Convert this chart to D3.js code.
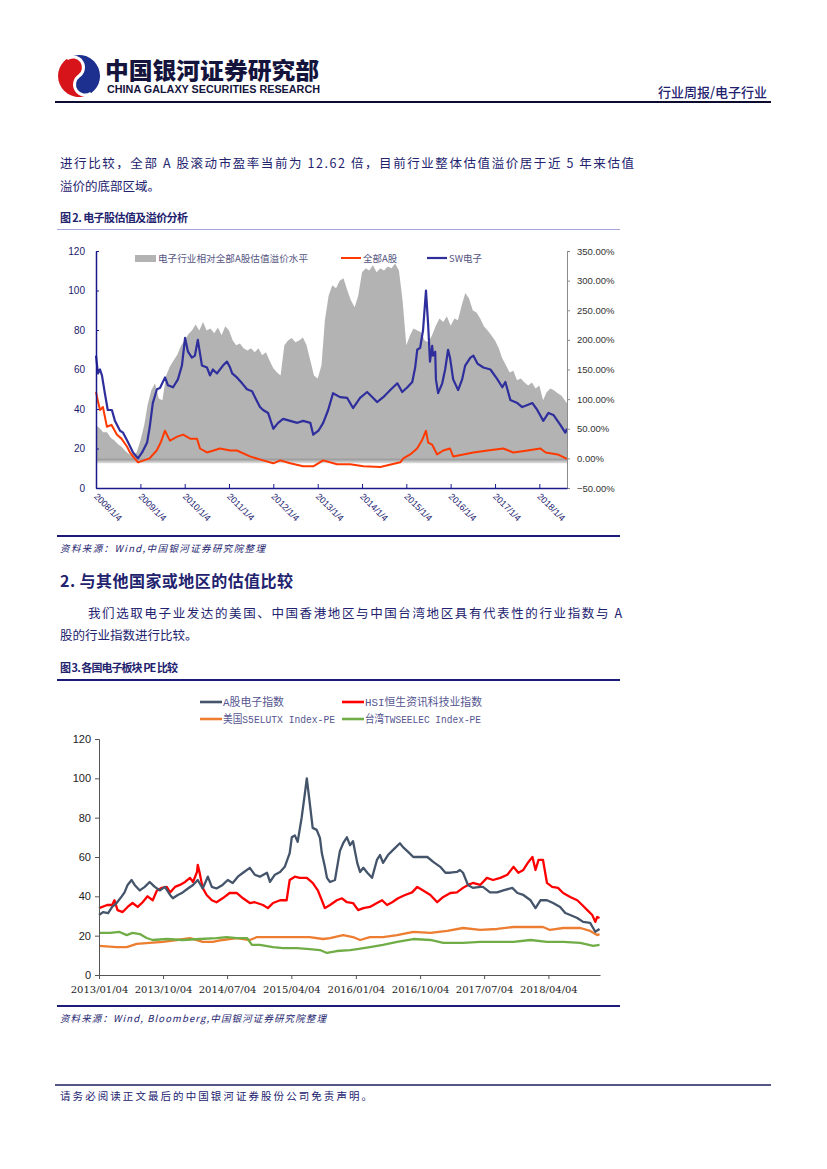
<!DOCTYPE html>
<html><head><meta charset="utf-8">
<script src="https://cdn.jsdelivr.net/npm/d3@7"></script>
<style>body{margin:0;background:#fff}svg{display:block}</style>
</head><body><svg id="page" width="827" height="1169"></svg>
<script>
// ---------------- DATA ----------------
// Chart 1 (图2): monthly premium (%) starting 2008-01
const premiumStart = "2008-01-04";
const premiumValues = [
 56,51,44,44,35,30,24,19,12,7,5,10,
 30,56,90,115,127,101,98,140,155,165,175,190,
 200,210,216,226,216,230,216,219,211,221,208,223,
 216,199,191,194,186,182,186,179,186,174,179,165,
 152,145,140,191,199,203,196,199,204,191,165,140,
 135,157,233,275,292,287,300,304,284,267,255,275,
 314,321,317,326,314,321,317,324,321,329,317,267,
 191,208,219,216,213,199,196,208,224,236,230,240,
 224,236,233,258,279,270,250,246,236,223,216,208,
 199,186,169,157,145,148,132,135,128,123,128,118,
 123,98,111,118,115,110,106,93];
const allAShares = [
 ["2008-01-04",48.6],["2008-01-20",44],["2008-02-06",39.5],["2008-03-01",41],["2008-04-03",31],["2008-05-10",32],
 ["2008-06-25",27],["2008-08-01",25],["2008-09-15",21],["2008-10-10",18],["2008-11-04",16],["2008-12-15",13],
 ["2009-02-01",14],["2009-03-20",15],["2009-05-18",19],["2009-06-20",23],["2009-07-25",29],["2009-09-04",24],
 ["2009-11-04",26],["2009-12-22",27],["2010-02-18",25],["2010-04-15",25],["2010-05-10",20],["2010-07-06",18],
 ["2010-10-22",20],["2011-01-13",19],["2011-03-10",19],["2011-06-25",16],["2011-10-12",14],["2012-01-04",12.5],
 ["2012-03-01",14],["2012-05-22",12.5],["2012-09-06",11],["2012-11-28",11],["2013-02-18",14],["2013-06-12",12],
 ["2013-09-28",12],["2014-01-16",11],["2014-06-04",10.6],["2014-11-15",13],["2014-12-10",15],["2015-02-05",17],
 ["2015-04-03",20],["2015-05-12",24],["2015-06-15",29],["2015-07-03",23],["2015-08-04",22],["2015-09-15",17],
 ["2015-11-04",19],["2015-12-30",20],["2016-01-25",16],["2016-04-18",17],["2016-07-10",18],["2016-11-04",19],
 ["2017-03-13",20],["2017-06-04",18],["2017-09-28",19],["2018-01-13",20],["2018-02-25",18],["2018-06-04",17],
 ["2018-08-20",14.7]];
const swElectronics = [
 ["2008-01-04",67],["2008-01-20",58],["2008-02-06",60],["2008-02-22",57],["2008-03-17",48],["2008-04-10",39.5],
 ["2008-05-14",39.5],["2008-06-08",34],["2008-07-20",29],["2008-08-14",28],["2008-09-25",23],["2008-11-04",18],
 ["2008-12-15",15],["2009-01-18",18],["2009-02-28",23],["2009-03-22",31],["2009-04-16",43],["2009-05-20",50],
 ["2009-06-14",50.6],["2009-07-26",56],["2009-08-19",52],["2009-09-30",51],["2009-11-09",55],["2009-12-12",62],
 ["2010-01-07",76],["2010-01-31",69],["2010-03-04",66],["2010-03-29",67],["2010-04-22",75],["2010-05-26",62],
 ["2010-07-07",61],["2010-07-31",57],["2010-08-24",60],["2010-09-27",58],["2010-11-15",62],["2010-12-18",64],
 ["2011-01-13",61],["2011-01-30",58],["2011-03-10",56],["2011-04-22",53],["2011-06-01",50],["2011-07-13",49],
 ["2011-08-06",46],["2011-09-16",41],["2011-10-12",39.5],["2011-11-22",38],["2012-01-04",30],["2012-02-13",33],
 ["2012-03-25",35],["2012-05-22",34],["2012-07-20",33],["2012-09-06",34],["2012-11-04",33],["2012-11-28",27],
 ["2013-01-10",29],["2013-02-18",33],["2013-03-31",39.5],["2013-05-10",48],["2013-07-07",46],["2013-09-04",45.6],
 ["2013-10-22",40.5],["2013-12-19",45.6],["2014-02-15",48.6],["2014-04-06",45.6],["2014-05-08",43.5],["2014-06-28",46],
 ["2014-08-25",49.6],["2014-10-22",53],["2014-12-01",48.6],["2015-01-13",51],["2015-02-22",53.7],["2015-03-18",61],
 ["2015-04-04",70],["2015-04-28",71],["2015-05-22",80],["2015-06-15",100],["2015-07-03",82.5],["2015-07-18",64],
 ["2015-08-05",72],["2015-08-12",67],["2015-08-30",69],["2015-09-05",55],["2015-09-23",48],["2015-10-27",53],
 ["2015-11-20",60],["2015-12-14",70],["2015-12-30",66],["2016-01-25",55],["2016-03-06",49.6],["2016-04-08",55],
 ["2016-05-03",62],["2016-06-15",66],["2016-07-10",67],["2016-08-12",63],["2016-09-30",61],["2016-11-27",60],
 ["2017-01-24",55],["2017-03-05",51],["2017-03-30",53.7],["2017-05-10",44.6],["2017-07-07",43],["2017-08-16",41],
 ["2017-09-28",42],["2017-11-08",43],["2017-12-18",39.5],["2018-02-06",34],["2018-03-20",38],["2018-04-30",37],
 ["2018-06-26",32],["2018-08-06",28],["2018-08-20",30]];
const c1LeftTicks = [0,20,40,60,80,100,120];
const c1RightTicks = [-50,0,50,100,150,200,250,300,350];
const c1XTicks = ["2008/1/4","2009/1/4","2010/1/4","2011/1/4","2012/1/4","2013/1/4","2014/1/4","2015/1/4","2016/1/4","2017/1/4","2018/1/4"];
const c1Legend = ["电子行业相对全部A股估值溢价水平","全部A股","SW电子"];

// Chart 2 (图3)
const aShareElec = [
 ["2013-01-04",30.5],["2013-01-21",32],["2013-02-12",31.5],["2013-03-01",34.6],["2013-03-20",36.6],["2013-04-11",40],
 ["2013-04-23",42],["2013-05-06",45.8],["2013-05-23",48.3],["2013-06-05",45.8],["2013-06-27",43],["2013-07-18",44.8],
 ["2013-08-08",47.3],["2013-08-30",44.8],["2013-09-21",43],["2013-10-12",44.8],["2013-11-03",40.7],["2013-11-15",39],
 ["2013-12-06",40.7],["2013-12-27",42],["2014-01-18",44],["2014-02-09",45.8],["2014-03-01",48.3],["2014-03-22",44],
 ["2014-04-13",50],["2014-04-30",44.8],["2014-05-20",44],["2014-06-15",45.8],["2014-07-07",48.3],["2014-07-28",46.8],
 ["2014-08-19",50],["2014-09-10",52],["2014-10-09",54.5],["2014-10-30",51],["2014-11-21",50],["2014-12-21",52],
 ["2015-01-03",47.3],["2015-01-24",51],["2015-02-15",52.4],["2015-03-07",55],["2015-03-28",62],["2015-04-06",70],
 ["2015-04-19",71],["2015-05-01",67.7],["2015-05-18",80],["2015-05-31",91.6],["2015-06-09",100],["2015-06-21",88],
 ["2015-07-04",74.8],["2015-07-21",73.8],["2015-08-04",69.7],["2015-08-12",62],["2015-08-25",55],["2015-09-03",49.4],
 ["2015-09-16",47.3],["2015-10-07",48.3],["2015-10-28",63],["2015-11-11",67],["2015-11-27",70],["2015-12-10",66],
 ["2015-12-23",68],["2016-01-10",57],["2016-01-22",52.4],["2016-02-05",54.5],["2016-02-22",52],["2016-03-13",49.4],
 ["2016-04-03",58.5],["2016-04-16",61],["2016-04-29",57],["2016-05-20",61],["2016-06-11",63.6],["2016-07-10",67],
 ["2016-07-23",65],["2016-08-14",62.6],["2016-09-05",60],["2016-10-04",60],["2016-11-04",60],["2016-11-29",57.5],
 ["2016-12-29",55],["2017-01-20",52],["2017-02-10",52],["2017-03-10",52.4],["2017-03-23",53.4],["2017-04-05",52],
 ["2017-04-26",45.8],["2017-05-17",44.3],["2017-06-17",44.8],["2017-06-29",44.8],["2017-07-29",42],["2017-08-28",42],
 ["2017-09-24",43],["2017-11-01",44.3],["2017-11-23",41.7],["2017-12-18",40.7],["2018-01-18",38],["2018-02-08",34],
 ["2018-03-01",38],["2018-03-29",38],["2018-04-24",36.6],["2018-05-24",34.6],["2018-06-15",31.5],["2018-07-06",30.5],
 ["2018-08-05",29],["2018-08-30",27],["2018-09-29",26.5],["2018-10-21",22],["2018-11-08",23.4]];
const hsiTech = [
 ["2013-01-04",34],["2013-02-08",35.6],["2013-03-01",35.6],["2013-03-11",38],["2013-03-24",33],["2013-04-15",32],
 ["2013-05-06",34.6],["2013-05-27",36.6],["2013-06-18",34.6],["2013-07-09",37],["2013-07-30",40],["2013-08-21",38],
 ["2013-09-08",43],["2013-09-29",44.3],["2013-10-20",44.8],["2013-11-03",42],["2013-11-24",44.8],["2013-12-15",45.8],
 ["2014-01-06",47.3],["2014-01-27",49.4],["2014-02-09",47.3],["2014-02-26",52.4],["2014-03-01",56],["2014-03-09",52],
 ["2014-03-22",44.3],["2014-04-08",40.7],["2014-04-30",38],["2014-05-20",37],["2014-06-15",39],["2014-07-15",41.7],
 ["2014-08-14",41.7],["2014-09-10",39],["2014-10-09",36.6],["2014-10-30",37],["2014-12-04",35.6],["2014-12-25",34],
 ["2015-01-16",36.6],["2015-02-15",38],["2015-03-15",38],["2015-03-28",48.3],["2015-04-19",50],["2015-05-10",49.4],
 ["2015-06-09",49.4],["2015-07-04",46.8],["2015-07-26",43],["2015-08-12",38],["2015-08-25",34],["2015-09-16",35.6],
 ["2015-10-15",38],["2015-11-06",39],["2015-11-27",37],["2015-12-23",36.6],["2016-01-14",33],["2016-02-05",34],
 ["2016-03-04",34.6],["2016-04-03",36.6],["2016-04-25",38],["2016-05-16",35.6],["2016-06-07",37],["2016-07-02",39],
 ["2016-08-01",40.7],["2016-08-31",42],["2016-09-22",44.8],["2016-10-17",43],["2016-11-17",40.7],["2016-12-16",37],
 ["2017-01-11",39.7],["2017-02-10",41.7],["2017-03-10",42],["2017-04-05",44.3],["2017-04-26",45.8],["2017-05-17",46.8],
 ["2017-06-17",45.8],["2017-07-16",49.4],["2017-08-11",48.3],["2017-09-11",49.4],["2017-10-11",51],["2017-11-06",55],
 ["2017-11-27",52],["2017-12-18",53.4],["2018-01-09",57.5],["2018-01-26",60],["2018-02-08",53.4],["2018-02-21",58.5],
 ["2018-03-12",58.5],["2018-03-29",46.8],["2018-04-20",44.8],["2018-05-15",44.3],["2018-06-06",41.7],["2018-07-06",39.7],
 ["2018-08-05",38],["2018-08-26",35.6],["2018-09-17",33],["2018-10-08",30.5],["2018-10-21",27],["2018-10-29",29.5],
 ["2018-11-08",29]];
const usS5elutx = [
 ["2013-01-04",14.8],["2013-03-20",14.2],["2013-05-02",14.2],["2013-06-14",15.8],["2013-08-08",16.3],["2013-10-03",16.8],
 ["2013-12-02",17.8],["2014-01-27",18.8],["2014-03-22",16.8],["2014-05-04",16.8],["2014-06-15",17.8],["2014-08-14",18.8],
 ["2014-10-09",17.8],["2014-11-09",19.3],["2015-01-03",19.3],["2015-02-28",19.3],["2015-04-27",19.3],["2015-06-21",19.3],
 ["2015-08-17",18.3],["2015-09-16",18.8],["2015-11-11",20.3],["2015-12-23",19.3],["2016-01-22",17.8],["2016-03-04",19.3],
 ["2016-04-29",19.3],["2016-06-28",20.3],["2016-09-05",21.9],["2016-11-17",21.4],["2017-01-28",22.4],["2017-04-05",23.9],
 ["2017-06-17",22.9],["2017-08-28",23.4],["2017-11-06",24.4],["2018-01-18",24.4],["2018-03-12",24.4],["2018-04-11",22.9],
 ["2018-06-06",23.9],["2018-08-18",23.9],["2018-09-29",22.4],["2018-10-29",20.3],["2018-11-08",20.8]];
const twTwseelec = [
 ["2013-01-04",21.4],["2013-02-20",21.4],["2013-04-02",21.9],["2013-05-02",20.3],["2013-05-27",21.4],["2013-06-27",20.8],
 ["2013-07-26",18.8],["2013-08-21",17.8],["2013-10-20",18.3],["2013-12-27",17.8],["2014-03-09",18.3],["2014-05-20",18.8],
 ["2014-07-02",19.3],["2014-08-14",18.8],["2014-09-27",18.8],["2014-10-18",15.3],["2014-11-21",15.3],["2015-01-16",14.2],
 ["2015-02-28",13.7],["2015-04-27",13.7],["2015-06-21",13.2],["2015-08-04",12.7],["2015-09-03",11.2],["2015-10-15",12.2],
 ["2015-12-10",12.7],["2016-01-10",13.2],["2016-03-04",14.2],["2016-04-29",15.3],["2016-06-28",16.8],["2016-09-05",18.3],
 ["2016-11-17",17.8],["2017-01-11",16.3],["2017-04-05",16.3],["2017-06-17",16.8],["2017-08-28",16.8],["2017-11-06",16.8],
 ["2018-01-18",17.8],["2018-03-29",16.8],["2018-06-06",16.8],["2018-08-18",16.3],["2018-10-12",14.8],["2018-11-08",15.3]];
const c2YTicks = [0,20,40,60,80,100,120];
const c2XTicks = ["2013/01/04","2013/10/04","2014/07/04","2015/04/04","2016/01/04","2016/10/04","2017/07/04","2018/04/04"];
const c2Legend = ["A股电子指数","HSI恒生资讯科技业指数","美国S5ELUTX Index-PE","台湾TWSEELEC Index-PE"];

// ---------------- DRAW ----------------
const svg = d3.select("#page");
const parse = d3.timeParse("%Y-%m-%d");
const parseSlash = d3.timeParse("%Y/%m/%d");
const CJK = "'Noto Sans CJK SC', sans-serif";
const NAVY = "#22226e";
svg.append("rect").attr("width",827).attr("height",1169).attr("fill","#fff");

// Header / logo (tilted yin-yang style swirl)
const logo = svg.append("g").attr("transform","translate(79,76) rotate(-35)");
logo.append("path").attr("fill","#d7141a")
  .attr("d","M0,-21 A21,21 0 0,0 0,21 A10.5,10.5 0 0,1 0,0 A10.5,10.5 0 0,0 0,-21 Z");
logo.append("path").attr("fill","#1d2f8f")
  .attr("d","M0,-21 A21,21 0 0,1 0,21 A10.5,10.5 0 0,1 0,0 A10.5,10.5 0 0,0 0,-21 Z");
logo.append("path").attr("fill","none").attr("stroke","#fff").attr("stroke-width",3)
  .attr("d","M0,-21 A10.5,10.5 0 0,1 0,0 A10.5,10.5 0 0,0 0,21");
svg.append("text").attr("x",105).attr("y",79).text("中国银河证券研究部")
  .attr("font-family",CJK).attr("font-weight",900).attr("font-size",23).attr("fill","#14143c")
  .attr("textLength",214).attr("lengthAdjust","spacingAndGlyphs");
svg.append("text").attr("x",107).attr("y",93).text("CHINA GALAXY SECURITIES RESEARCH")
  .attr("font-family","Arial, 'Liberation Sans', sans-serif").attr("font-weight",700).attr("font-size",10).attr("fill","#14143c")
  .attr("textLength",213).attr("lengthAdjust","spacingAndGlyphs");
svg.append("text").attr("x",767).attr("y",97).attr("text-anchor","end").text("行业周报/电子行业")
  .attr("font-family",CJK).attr("font-weight",500).attr("font-size",13).attr("fill",NAVY);
svg.append("line").attr("x1",55).attr("x2",771).attr("y1",102).attr("y2",102).attr("stroke","#0c0c30").attr("stroke-width",2);

function txt(x,y,s,size,opts={}){
  const t = svg.append("text").attr("x",x).attr("y",y).text(s)
    .attr("font-family",opts.family||CJK).attr("font-size",size).attr("fill",opts.fill||NAVY)
    .attr("font-weight",opts.weight||400);
  if(opts.len) t.attr("textLength",opts.len).attr("lengthAdjust","spacing");
  if(opts.italic) t.attr("font-style","italic");
  return t;
}
txt(60,168,"进行比较，全部 A 股滚动市盈率当前为 12.62 倍，目前行业整体估值溢价居于近 5 年来估值",12.5,{len:574});
txt(60,191,"溢价的底部区域。",12.5);
txt(60,222,"图 2. 电子股估值及溢价分析",11,{weight:700,len:128});
svg.append("line").attr("x1",57).attr("x2",620).attr("y1",229.5).attr("y2",229.5).attr("stroke","#a5a5dc").attr("stroke-width",1.2);

// ---------- Chart 1 ----------
const x1 = d3.scaleTime().domain([parse("2008-01-04"),parse("2018-08-20")]).range([96,567]);
const yL = d3.scaleLinear().domain([0,120]).range([488,251]);
const yR = d3.scaleLinear().domain([-50,350]).range([488,251]);
const premium = premiumValues.map((v,i)=>({date:d3.timeMonth.offset(parse(premiumStart),i),v}));
premium[premium.length-1].date = parse("2018-08-20");
const defs = svg.append("defs");
const gr = defs.append("linearGradient").attr("id","shadow").attr("x1",0).attr("x2",0).attr("y1",0).attr("y2",1);
gr.append("stop").attr("offset","0%").attr("stop-color","#8a8a8a");
gr.append("stop").attr("offset","100%").attr("stop-color","#e6e6e6");
svg.append("path").datum(premium).attr("fill","#b3b3b3")
  .attr("d",d3.area().x(d=>x1(d.date)).y0(yR(0)).y1(d=>yR(d.v)));
svg.append("rect").attr("x",x1.range()[0]).attr("width",x1.range()[1]-x1.range()[0])
  .attr("y",yR(0)).attr("height",5).attr("fill","url(#shadow)");
const line1 = d3.line().x(d=>x1(parse(d[0]))).y(d=>yL(d[1]));
svg.append("path").datum(allAShares).attr("fill","none").attr("stroke","#ff3a00").attr("stroke-width",2).attr("stroke-linejoin","round").attr("d",line1);
svg.append("path").datum(swElectronics).attr("fill","none").attr("stroke","#2e2e9c").attr("stroke-width",2.2).attr("stroke-linejoin","round").attr("d",line1);

const axL = svg.append("g").attr("transform","translate(96,0)")
  .call(d3.axisLeft(yL).tickValues(c1LeftTicks).tickSizeInner(-3).tickSizeOuter(0).tickPadding(11));
axL.select(".domain").attr("stroke","#1a1a8c").attr("stroke-width",1.5);
axL.selectAll(".tick line").attr("stroke","#1a1a8c");
axL.selectAll("text").attr("font-family","Arial, 'Liberation Sans'").attr("font-size",10).attr("fill","#1a1a6e");
const axR = svg.append("g").attr("transform","translate(567,0)")
  .call(d3.axisRight(yR).tickValues(c1RightTicks).tickSize(3).tickFormat(d=>d3.format(".2f")(d)+"%").tickPadding(7));
axR.select(".domain").attr("stroke","#8c8c8c");
axR.selectAll(".tick line").attr("stroke","#8c8c8c");
axR.selectAll("text").attr("font-family","Arial, 'Liberation Sans'").attr("font-size",9.5).attr("fill","#333");
const axB = svg.append("g").attr("transform","translate(0,488)")
  .call(d3.axisBottom(x1).tickValues(c1XTicks.map(s=>parseSlash(s))).tickSizeInner(-4).tickSizeOuter(0).tickFormat(d3.timeFormat("%Y/%-m/%-d")));
axB.select(".domain").attr("stroke","#1a1a8c").attr("stroke-width",1.5);
axB.selectAll(".tick line").attr("stroke","#1a1a8c");
axB.selectAll("text").attr("font-family","Arial, 'Liberation Sans'").attr("font-size",9).attr("fill","#1a1a6e")
  .attr("text-anchor","start").attr("y",0).attr("dy",0)
  .attr("transform","translate(-3,9) rotate(45)");

// legend 1
const lg1 = svg.append("g").attr("font-family",CJK).attr("font-size",9.5).attr("fill","#55557f");
lg1.append("rect").attr("x",135).attr("y",255).attr("width",21).attr("height",7).attr("fill","#b3b3b3");
lg1.append("text").attr("x",158).attr("y",261.5).text(c1Legend[0]).attr("textLength",150).attr("lengthAdjust","spacingAndGlyphs");
lg1.append("line").attr("x1",341).attr("x2",361).attr("y1",258).attr("y2",258).attr("stroke","#ff3a00").attr("stroke-width",2);
lg1.append("text").attr("x",363).attr("y",261.5).text(c1Legend[1]);
lg1.append("line").attr("x1",427).attr("x2",447).attr("y1",258).attr("y2",258).attr("stroke","#2e2e9c").attr("stroke-width",2.2);
lg1.append("text").attr("x",449).attr("y",261.5).text(c1Legend[2]);

svg.append("line").attr("x1",57).attr("x2",620).attr("y1",536).attr("y2",536).attr("stroke","#1c1c78").attr("stroke-width",2);
txt(60,552,"资料来源：Wind,中国银河证券研究院整理",9.5,{italic:true,len:205});

// Section 2
txt(60,587,"2. 与其他国家或地区的估值比较",16,{weight:700,len:233});
txt(88,618,"我们选取电子业发达的美国、中国香港地区与中国台湾地区具有代表性的行业指数与 A",12.5,{len:534});
txt(60,640,"股的行业指数进行比较。",12.5);
txt(60,672,"图 3. 各国电子板块 PE 比较",11,{weight:700,len:118});
svg.append("line").attr("x1",57).attr("x2",620).attr("y1",680).attr("y2",680).attr("stroke","#1c1c78").attr("stroke-width",2);

// ---------- Chart 2 ----------
const x2 = d3.scaleTime().domain([parse("2013-01-04"),parse("2018-11-10")]).range([99,600]);
const y2 = d3.scaleLinear().domain([0,120]).range([975,739]);
const line2 = d3.line().x(d=>x2(parse(d[0]))).y(d=>y2(d[1]));
const series2 = [[usS5elutx,"#ed7d31"],[twTwseelec,"#70ad47"],[hsiTech,"#ff0000"],[aShareElec,"#44546a"]];
series2.forEach(([data,col])=>{
  svg.append("path").datum(data).attr("fill","none").attr("stroke",col).attr("stroke-width",2.3)
    .attr("stroke-linejoin","round").attr("d",line2);
});
const ay2 = svg.append("g").attr("transform","translate(99,0)")
  .call(d3.axisLeft(y2).tickValues(c2YTicks).tickSize(4).tickPadding(4));
ay2.select(".domain").attr("stroke","#555");
ay2.selectAll(".tick line").attr("stroke","#555");
ay2.selectAll("text").attr("font-family","Arial, 'Liberation Sans'").attr("font-size",11).attr("fill","#222");
const ax2 = svg.append("g").attr("transform","translate(0,975)")
  .call(d3.axisBottom(x2).tickValues(c2XTicks.map(s=>parseSlash(s))).tickSizeInner(4).tickSizeOuter(0).tickFormat(d3.timeFormat("%Y/%m/%d")));
ax2.select(".domain").attr("stroke","#555");
ax2.selectAll(".tick line").attr("stroke","#555");
ax2.selectAll("text").attr("font-family","'DejaVu Serif', serif").attr("font-size",10).attr("fill","#222").attr("dy","1.05em");

// legend 2
const lg2 = svg.append("g").attr("font-family","'Liberation Mono', 'Noto Sans CJK SC', monospace").attr("font-size",11).attr("fill","#55558f");
const legPos = [[200,702,61],[342,702,117],[200,719,112],[342,719,116]];
const legCol = ["#44546a","#ff0000","#ed7d31","#70ad47"];
c2Legend.forEach((s,i)=>{
  const [lx,ly,w] = legPos[i];
  lg2.append("line").attr("x1",lx).attr("x2",lx+22).attr("y1",ly).attr("y2",ly).attr("stroke",legCol[i]).attr("stroke-width",2.6);
  lg2.append("text").attr("x",lx+23).attr("y",ly+4).text(s).attr("textLength",w).attr("lengthAdjust","spacingAndGlyphs");
});

svg.append("line").attr("x1",57).attr("x2",620).attr("y1",1006).attr("y2",1006).attr("stroke","#1c1c78").attr("stroke-width",2);
txt(60,1022,"资料来源：Wind, Bloomberg,中国银河证券研究院整理",9.5,{italic:true,len:266});

// footer
svg.append("line").attr("x1",55).attr("x2",771).attr("y1",1085).attr("y2",1085).attr("stroke","#1c1c60").attr("stroke-width",1.5);
txt(60,1100,"请务必阅读正文最后的中国银河证券股份公司免责声明。",10.5,{len:312});
</script></body></html>
